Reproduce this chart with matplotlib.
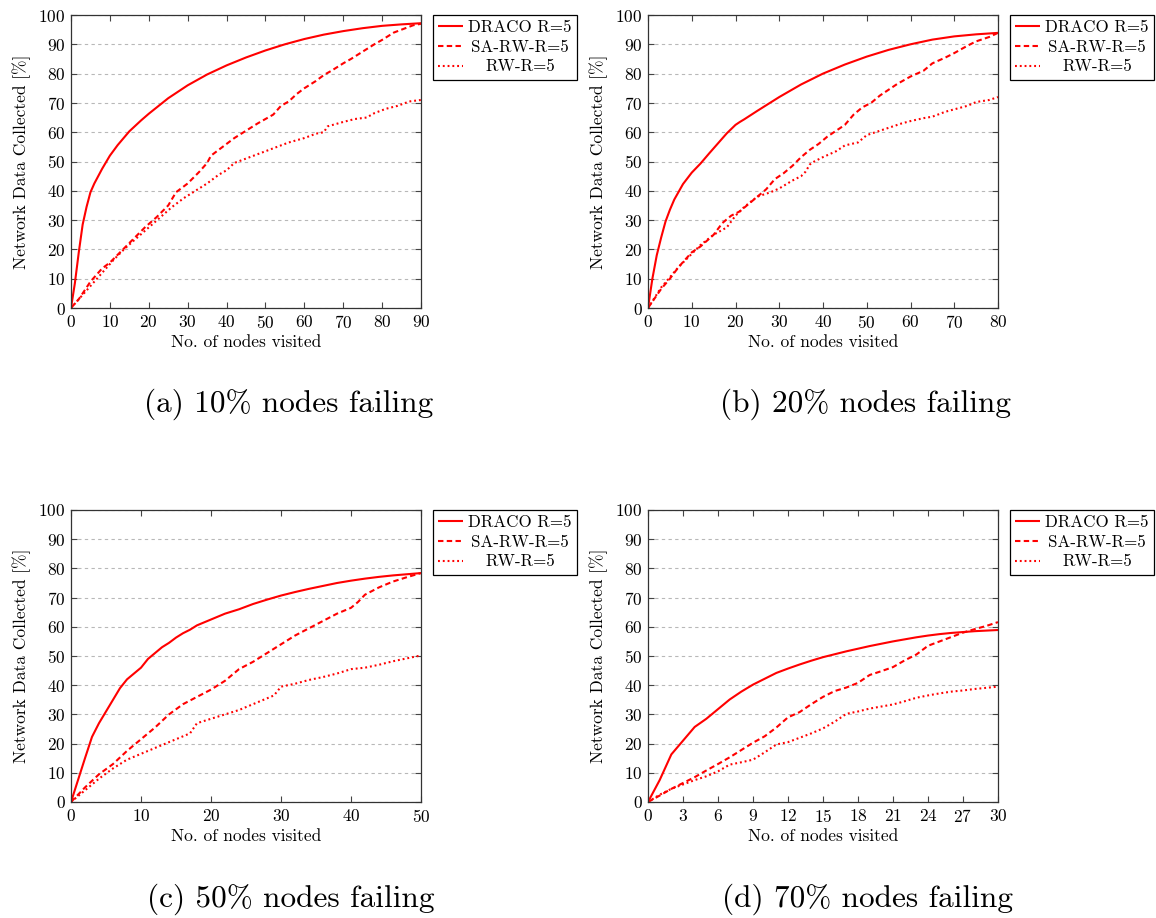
import matplotlib
matplotlib.use("Agg")
import matplotlib.pyplot as plt

plt.rcParams['font.family'] = 'serif'
plt.rcParams['font.serif'] = ['cmr10']
plt.rcParams['mathtext.fontset'] = 'cm'
plt.rcParams['axes.unicode_minus'] = False
plt.rcParams['axes.formatter.use_mathtext'] = True

series_labels = ["DRACO R=5", "SA-RW-R=5", "RW-R=5"]
captions = ["(a) 10% nodes failing", "(b) 20% nodes failing",
            "(c) 50% nodes failing", "(d) 70% nodes failing"]
xmax = [90, 80, 50, 30]
xstep = [10, 10, 10, 3]

# Panel (a)
a_draco_x = [0,1,2,3,4,5,6,8,10,12,15,18,20,25,30,35,40,45,50,55,60,65,70,75,80,85,90]
a_draco_y = [0,8.5,19,28.5,34.5,39.5,42.5,47.5,52,55.6,60.3,64.0,66.3,71.6,76.0,79.7,82.8,85.5,87.9,90.0,91.8,93.3,94.5,95.5,96.3,96.8,97.2]
a_sarw_x = [0,2,5,8,10,13,16,19,22,25,27,30,33,35,36,38,40,42,45,48,50,52,54,56,58,60,63,65,67,70,72,75,78,80,83,85,88,90]
a_sarw_y = [0,3,9,13.5,15.5,19.5,23.5,27.5,31,35,39.5,42.5,46.5,49.5,52,54,56,58,60.5,63,64.5,66,69,70.5,73,75,77.5,79.5,81,83.5,85,87.5,90,91.5,94,95,96.5,97]
a_rw_x = [0,3,5,8,11,14,17,20,23,26,29,32,35,38,40,42,44,47,50,53,56,60,63,65,66,70,73,76,78,81,84,87,90]
a_rw_y = [0,4.5,7.5,12,16.5,20.5,24,27.5,31,34.5,37.5,40,42.5,45.5,47,49.5,50.5,52,53.5,55,56.5,58,59.5,60,62,63.5,64.5,65,66.5,68,69,70.5,71]

# Panel (b)
b_draco_x = [0,1,2,3,4,5,6,8,10,12,14,16,18,20,21,22,25,30,35,40,45,50,55,60,65,70,75,80]
b_draco_y = [0,10,18,24,29.5,33.5,37,42.3,46.2,49.3,52.8,56.2,59.6,62.5,63.5,64.4,67.3,72.0,76.3,80.0,83.1,85.8,88.1,90,91.6,92.7,93.4,93.9]
b_sarw_x = [0,3,5,7,10,12,15,17,19,21,23,25,27,29,31,33,35,37,39,41,43,45,47,49,51,53,55,57,60,63,65,68,70,73,75,78,80]
b_sarw_y = [0,6.5,10,14,19,21,25,29,31.5,33,35.5,38,40.5,44,46,48.5,51.5,54,56,58.5,60.5,62.5,66,68.5,70,72.5,74.5,76.5,79,81,83.5,85.5,87,89.5,91,92.5,93.9]
b_rw_x = [0,3,5,7,10,12,15,18,20,22,25,28,30,33,35,36,37,38,40,43,45,48,50,53,55,58,60,63,65,68,70,73,75,78,80]
b_rw_y = [0,7,10.5,14,18.5,21.5,25,27.5,31.5,34.5,38,39.5,40.8,43.5,45,46.5,49,50,51.5,53.5,55.5,56.5,59,60.5,61.5,63,63.8,64.8,65.3,67,67.8,69,70.3,71,72]

# Panel (c)
c_draco_x = [0,1,2,3,4,5,6,7,8,9,10,11,12,13,14,15,16,17,18,20,22,24,26,28,30,32,34,36,38,40,42,44,46,48,50]
c_draco_y = [0,7.5,15,22.3,27,31,35,39,42,44,46,49,51,53,54.5,56.3,57.8,59,60.5,62.5,64.5,66,67.8,69.3,70.7,71.9,73,74,75,75.8,76.5,77.1,77.6,78,78.4]
c_sarw_x = [0,2,4,6,8,10,12,14,16,18,20,22,24,26,28,30,32,34,36,38,40,41,42,44,46,48,50]
c_sarw_y = [0,5,9.5,13,17.5,21.5,25.5,30,33.5,36,38.5,41.5,45.5,48,51,54,57,59.5,62,64.5,66.5,68.5,71,73.5,75.5,77,78.4]
c_rw_x = [0,2,4,6,8,10,12,14,16,17,18,20,22,24,26,28,29,30,32,34,36,38,40,42,44,46,48,50]
c_rw_y = [0,4,8,11.5,14.5,16.5,18.5,20.5,22.5,23.5,27,28.5,30,31.5,33.5,35.5,36.5,39.5,40.5,41.8,42.8,44,45.5,46,47,48.2,49.2,50.2]

# Panel (d)
d_x = [0,1,2,3,4,5,6,7,8,9,10,11,12,13,14,15,16,17,18,19,20,21,22,23,24,25,26,27,28,29,30]
d_draco_y = [0,7.5,16.3,21,25.7,28.5,31.8,35.1,37.8,40.2,42.2,44.2,45.7,47.1,48.4,49.6,50.6,51.6,52.5,53.4,54.2,55,55.7,56.4,57,57.5,57.9,58.2,58.5,58.7,58.9]
d_sarw_y = [0,2.2,4.5,6.5,8.5,10.8,13,15.3,17.8,20.3,22.5,25.5,29,30.8,33.5,36,38,39.2,40.8,43.5,44.8,46.2,48.5,50.5,53.5,55,56.5,58,59.2,60.3,61.6]
d_rw_y = [0,2.5,4.5,6,7.5,8.8,10.5,12.8,13.6,14.5,17,19.7,20.5,22,23.5,25.2,27.5,30.2,31,32,32.7,33.4,34.5,35.7,36.5,37.2,37.8,38.2,38.7,39.1,39.5]

panels = [
    [(a_draco_x, a_draco_y), (a_sarw_x, a_sarw_y), (a_rw_x, a_rw_y)],
    [(b_draco_x, b_draco_y), (b_sarw_x, b_sarw_y), (b_rw_x, b_rw_y)],
    [(c_draco_x, c_draco_y), (c_sarw_x, c_sarw_y), (c_rw_x, c_rw_y)],
    [(d_x, d_draco_y), (d_x, d_sarw_y), (d_x, d_rw_y)],
]

W, H = 1156, 918
fig = plt.figure(figsize=(W / 100, H / 100), dpi=100)

# pixel boxes: left, top, right, bottom
boxes = [(71, 15, 421, 308), (648, 15, 998, 308),
         (71, 510, 421, 802), (648, 510, 998, 802)]
cap_pos = [(289, 404), (866, 404), (291, 899), (868, 899)]

red = '#ff0000'
styles = [dict(linestyle='-'),
          dict(linestyle=(0, (2.6, 1.6))),
          dict(linestyle=(0, (0.9, 1.4)))]

legends = []
for i, (box, data) in enumerate(zip(boxes, panels)):
    l, t, r, b = box
    ax = fig.add_axes([l / W, 1 - b / H, (r - l) / W, (b - t) / H])
    handles = []
    for (xs, ys), st, lab in zip(data, styles, series_labels):
        h, = ax.plot(xs, ys, color=red, lw=1.5, label=lab,
                     solid_capstyle='butt', dash_capstyle='butt', **st)
        handles.append(h)
    ax.set_xlim(0, xmax[i])
    ax.set_ylim(0, 100)
    ax.set_xticks(list(range(0, xmax[i] + 1, xstep[i])))
    ax.set_yticks(list(range(0, 101, 10)))
    ax.tick_params(direction='in', top=True, right=True, length=4,
                   width=0.8, labelsize=12.5, pad=4, color='#444444')
    ax.yaxis.grid(True, color='#b8b8b8', linestyle=(0, (3, 3)), lw=0.8)
    ax.set_axisbelow(True)
    for s in ax.spines.values():
        s.set_color('#333333')
        s.set_linewidth(0.9)
    ax.set_xlabel("No. of nodes visited", fontsize=12.5, labelpad=3)
    ax.set_ylabel("Network Data Collected [%]", fontsize=12.5, labelpad=5)
    leg = ax.legend(handles=handles, loc='upper left', bbox_to_anchor=(1.034, 1.0),
                    borderaxespad=0, fontsize=12.2, frameon=True, fancybox=False,
                    edgecolor='black', framealpha=1, handlelength=1.5,
                    handletextpad=0.3, borderpad=0.3, labelspacing=0.25)
    leg.get_frame().set_linewidth(0.9)
    legends.append(leg)
    cx, cy = cap_pos[i]
    fig.text(cx / W, 1 - cy / H, captions[i], ha='center', va='center', fontsize=22.5)

# centre the legend entries like the original (pgfplots centres legend text)
renderer = fig.canvas.get_renderer()
for leg in legends:
    texts = leg.get_texts()
    widths = [tx.get_window_extent(renderer).width for tx in texts]
    wmax = max(widths)
    for tx, w in zip(texts, widths):
        tx.set_x((wmax - w) / 2.0)

fig.savefig("out.png", dpi=100)
